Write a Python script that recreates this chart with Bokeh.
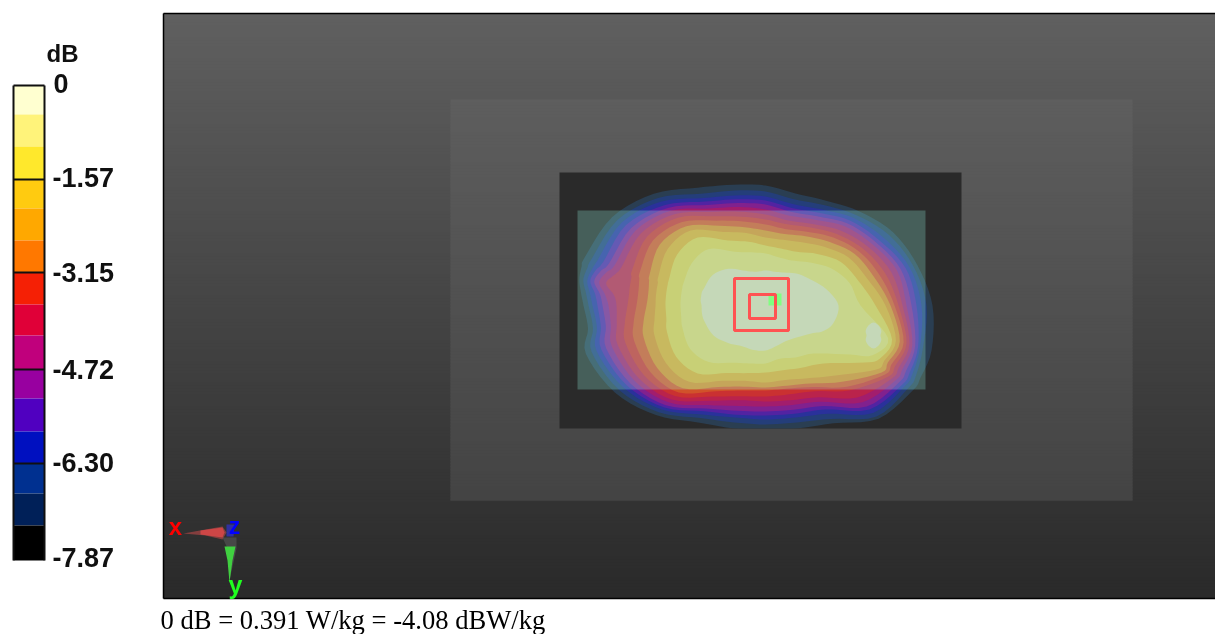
import numpy as np
from bokeh.plotting import figure
from bokeh.models import Range1d
from bokeh.core.properties import value
from bokeh.embed import file_html
from bokeh.resources import INLINE

# colour scale (dB)
legend_title = "dB"
tick_labels = ["0", "-1.57", "-3.15", "-4.72", "-6.30", "-7.87"]
tick_db = [0.0, -1.57, -3.15, -4.72, -6.30, -7.87]
band_colors = ["#ffffd0", "#fff37a", "#ffe82c", "#ffcb10", "#ffa800", "#ff7800", "#f52005", "#e00038",
               "#c0007c", "#9800a0", "#5000c0", "#0010c0", "#003090", "#002058", "#000000"]
footer = "0 dB = 0.391 W/kg = -4.08 dBW/kg"

# contour outlines: radius read along each ray from the peak, one row per ray, innermost contour first
ray_deg = [0, 15, 25, 30, 45, 60, 75, 90, 105, 120, 135, 150, 165, 172.5, 180, 184, 188, 192, 195, 210, 225, 240, 255, 270, 285, 300, 315, 330, 345]
contour_r = [
    [73, 95, 110, 120, 125, 129, 133, 137, 141, 146, 151, 156, 161, 167],
    [70, 127, 131, 135, 139, 143, 146, 149, 152, 155, 158, 160, 163, 172],
    [62, 118, 126, 131, 135, 139, 143, 147, 151, 155, 159, 162, 166, 171],
    [55, 98, 114, 128, 134, 138, 142, 146, 150, 154, 158, 161, 165, 170],
    [45, 68, 82, 99, 108, 115, 120, 130, 137, 143, 147, 152, 157, 160],
    [41, 60, 72, 84, 90, 94, 99, 106, 111, 116, 120, 125, 131, 136],
    [42, 55, 67, 77, 83, 86, 92, 98, 103, 108, 112, 116, 121, 127],
    [45, 58, 67, 77, 82, 85, 91, 96, 101, 106, 110, 114, 119, 123],
    [46, 60, 70, 78, 84, 88, 94, 98, 104, 109, 113, 116, 121, 127],
    [47, 66, 78, 87, 94, 99, 105, 110, 115, 119, 122, 126, 130, 135],
    [53, 80, 96, 108, 117, 123, 128, 133, 137, 141, 144, 147, 151, 155],
    [60, 87, 103, 115, 125, 133, 140, 146, 151, 156, 160, 164, 169, 174],
    [63, 86, 102, 115, 126, 136, 145, 153, 159, 165, 170, 175, 180, 186],
    [64, 85, 100, 112, 123, 133, 142, 150, 156, 161, 166, 170, 174, 179],
    [64, 85, 100, 110, 119, 129, 138, 149, 157, 163, 168, 173, 177, 182],
    [65, 85, 100, 110, 118, 128, 137, 152, 161, 166, 171, 176, 180, 185],
    [65, 85, 100, 110, 118, 128, 137, 161, 168, 173, 177, 180, 184, 188],
    [65, 85, 100, 110, 119, 129, 137, 153, 162, 168, 173, 177, 182, 188],
    [64, 85, 100, 111, 120, 130, 138, 149, 156, 162, 168, 174, 180, 187],
    [61, 85, 102, 113, 122, 130, 137, 144, 150, 155, 161, 166, 171, 177],
    [52, 80, 96, 106, 112, 118, 124, 129, 134, 138, 142, 147, 152, 158],
    [40, 62, 75, 85, 92, 98, 103, 108, 112, 116, 120, 124, 129, 136],
    [35, 55, 66, 75, 81, 87, 92, 97, 102, 106, 110, 114, 119, 125],
    [35, 52, 60, 68, 75, 81, 86, 91, 96, 101, 105, 109, 114, 120],
    [35, 50, 59, 68, 74, 79, 84, 88, 93, 97, 101, 105, 110, 116],
    [38, 52, 62, 73, 80, 85, 90, 94, 99, 103, 107, 111, 116, 121],
    [45, 61, 73, 83, 90, 96, 101, 106, 112, 116, 120, 124, 128, 133],
    [52, 75, 87, 96, 103, 108, 113, 118, 123, 127, 131, 136, 142, 147],
    [63, 87, 96, 105, 112, 118, 124, 130, 136, 140, 145, 149, 153, 157],
]
hot_r = [7, 9, 11, 13, 11, 9, 7, 9, 11, 13, 11, 9]
hot_deg = [0, 30, 60, 90, 120, 150, 180, 210, 240, 270, 300, 330]

# colours of the contour bands as they show on the dark block, innermost first
shown_rgb = [(211, 203, 167), (215, 201, 109), (215, 193, 79), (215, 162, 49), (211, 135, 42), (209, 82, 42),
             (202, 49, 49), (186, 35, 75), (162, 29, 109), (129, 33, 142), (82, 35, 162), (42, 49, 155),
             (36, 62, 122), (42, 62, 82)]
shown_colors = ["#%02x%02x%02x" % c for c in shown_rgb]

peak = (765, 305)
W, H = 1215, 634
p = figure(width=W, height=H, x_range=Range1d(0, W), y_range=Range1d(H, 0), output_backend="svg",
           toolbar_location=None, min_border=0, outline_line_color=None,
           background_fill_color="white", border_fill_color="white",
           styles={"position": "fixed", "left": "0px", "top": "0px"})
p.axis.visible = False
p.grid.visible = False


def smooth(x, y, m=5):
    """Closed Catmull-Rom curve through the read points, for drawing."""
    x, y = np.asarray(x, float), np.asarray(y, float)
    t = np.linspace(0, 1, m, endpoint=False)[:, None]
    def cr(a):
        a0, a1, a2, a3 = np.roll(a, 1), a, np.roll(a, -1), np.roll(a, -2)
        return (0.5 * (2 * a1 + (a2 - a0) * t + (2 * a0 - 5 * a1 + 4 * a2 - a3) * t ** 2
                       + (3 * a1 - a0 - 3 * a2 + a3) * t ** 3)).T.ravel()
    return cr(x), cr(y)


# background: grey rows
panel = (163, 1215, 13, 598)
block1 = (450, 1132, 99, 500)
block2 = (559, 961, 172, 428)
rows = np.arange(panel[2], panel[3], 3)
g = np.interp(rows, [13, 598], [96, 42]).astype(int)
bot = np.minimum(rows + 5, panel[3])
p.quad(left=panel[0], right=panel[1], top=rows, bottom=bot, line_color=None,
       fill_color=[f"#{v:02x}{v:02x}{v:02x}" for v in g])
rows1 = np.arange(block1[2], block1[3], 3)
g1 = np.interp(rows1, [99, 500], [94, 68]).astype(int)
p.quad(left=block1[0], right=block1[1], top=rows1, bottom=np.minimum(rows1 + 5, block1[3]), line_color=None,
       fill_color=[f"#{v:02x}{v:02x}{v:02x}" for v in g1])
p.quad(left=block2[0], right=block2[1], top=block2[2], bottom=block2[3], line_color=None, fill_color="#2a2a2a")

# contours
th = np.radians(ray_deg)
R = np.array(contour_r, float)
for k in range(13, -1, -1):
    x, y = smooth(peak[0] + R[:, k] * np.cos(th), peak[1] + R[:, k] * np.sin(th))
    y = np.minimum(y, 428)
    p.patch(x, y, fill_color=shown_colors[k], line_color=None)
    if k == 0:
        hx, hy = smooth(873 + np.array(hot_r) * np.cos(np.radians(hot_deg)),
                        335 + np.array(hot_r) * np.sin(np.radians(hot_deg)))
        p.patch(hx, hy, fill_color=shown_colors[0], line_color=None)

# translucent rectangle
p.quad(left=577, right=925, top=210, bottom=389, line_color=None, fill_color="#9afeea", fill_alpha=0.25)

# green mark and red squares
p.quad(left=[768, 775], right=[775, 781], top=[295, 293], bottom=[305, 305], line_color=None,
       fill_color="#80ff80")
p.quad(left=[734, 749], right=[788, 775], top=[278, 294], bottom=[330, 318], fill_color=None,
       line_color="#ff5252", line_width=3)

# panel frame
p.segment(x0=[163, 163, 163], y0=[13, 13, 598], x1=[163, 1215, 1215], y1=[598, 13, 598], line_color="black",
          line_width=1.5)

# triad
p.patch([183, 205, 222, 226, 222, 205], [533, 529, 526, 532, 539, 535], fill_color="#c84a4a", line_color=None, fill_alpha=0.55)
p.patch([200, 222, 224, 222, 200], [530, 527, 532, 537, 534], fill_color="#e04848", line_color=None, fill_alpha=0.8)
p.patch([226, 234, 233, 226], [524, 524, 536, 536], fill_color="#3030d0", line_color=None, fill_alpha=0.7)
p.patch([222, 236, 236, 229, 227], [537, 537, 548, 580, 548], fill_color="#808080", line_color=None, fill_alpha=0.3)
p.patch([224, 235, 232, 229, 227], [546, 546, 560, 582, 560], fill_color="#40d040", line_color=None)
p.text([175], [526], text=["x"], text_color="#ff0000", text_font=value("Liberation Sans"), text_font_size="24px",
       text_font_style="bold", text_align="center", text_baseline="middle")
p.text([234], [525], text=["z"], text_color="#0000ff", text_font=value("Liberation Sans"), text_font_size="23px",
       text_font_style="bold", text_align="center", text_baseline="middle")
p.text([235], [584], text=["y"], text_color="#20ff20", text_font=value("Liberation Sans"), text_font_size="25px",
       text_font_style="bold", text_align="center", text_baseline="middle")

# colour bar
edges = [85, 114, 146, 179, 208, 240, 272, 304, 335, 369, 398, 431, 463, 493, 525, 560]
p.quad(left=13, right=44, top=edges[:-1], bottom=edges[1:], line_color=None, fill_color=band_colors)
p.segment(x0=[13, 13, 44, 13, 13, 13, 13], y0=[85, 85, 85, 179, 272, 369, 463],
          x1=[44, 13, 44, 44, 44, 44, 44], y1=[85, 560, 560, 179, 272, 369, 463],
          line_color="#101010", line_width=2)
p.text([46], [53], text=[legend_title], text_font=value("Liberation Sans"), text_font_style="bold",
       text_font_size="24px", text_baseline="middle", text_color="#101010")
label_y = [83, 177, 272, 369, 462, 557]
p.text([53] + [52] * 5, label_y, text=tick_labels, text_font=value("Liberation Sans"), text_font_style="bold",
       text_font_size="27px", text_baseline="middle", text_color="#101010")
p.text([160], [619], text=[footer], text_font=value("Liberation Serif"), text_font_size="26.6px",
       text_baseline="middle", text_color="black")

open("out.html", "w").write(file_html(p, INLINE))
